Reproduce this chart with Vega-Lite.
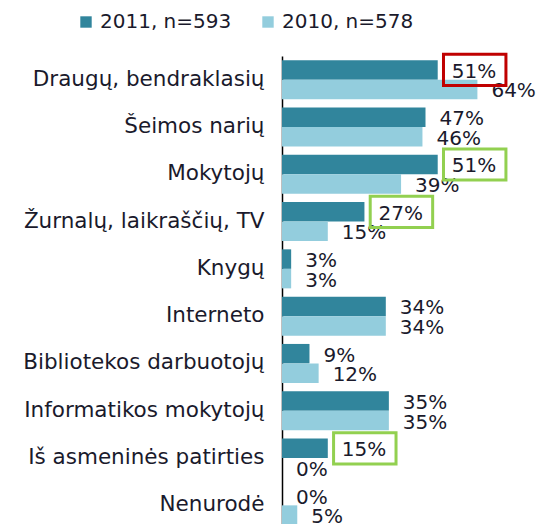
{
  "$schema": "https://vega.github.io/schema/vega-lite/v6.json",
  "autosize": {"type": "none"},
  "padding": {"left": 282, "top": 56, "right": 0, "bottom": 0},
  "width": 258,
  "height": 473,
  "background": "white",
  "config": {
    "view": {"stroke": null},
    "font": "DejaVu Sans",
    "text": {"font": "DejaVu Sans"}
  },
  "data": {
    "values": [
      {"category": "Draugų, bendraklasių", "year": "2011, n=593", "value": 51, "label": "51%", "change": "decline"},
      {"category": "Draugų, bendraklasių", "year": "2010, n=578", "value": 64, "label": "64%"},
      {"category": "Šeimos narių", "year": "2011, n=593", "value": 47, "label": "47%"},
      {"category": "Šeimos narių", "year": "2010, n=578", "value": 46, "label": "46%"},
      {"category": "Mokytojų", "year": "2011, n=593", "value": 51, "label": "51%", "change": "growth"},
      {"category": "Mokytojų", "year": "2010, n=578", "value": 39, "label": "39%"},
      {"category": "Žurnalų, laikraščių, TV", "year": "2011, n=593", "value": 27, "label": "27%", "change": "growth"},
      {"category": "Žurnalų, laikraščių, TV", "year": "2010, n=578", "value": 15, "label": "15%"},
      {"category": "Knygų", "year": "2011, n=593", "value": 3, "label": "3%"},
      {"category": "Knygų", "year": "2010, n=578", "value": 3, "label": "3%"},
      {"category": "Interneto", "year": "2011, n=593", "value": 34, "label": "34%"},
      {"category": "Interneto", "year": "2010, n=578", "value": 34, "label": "34%"},
      {"category": "Bibliotekos darbuotojų", "year": "2011, n=593", "value": 9, "label": "9%"},
      {"category": "Bibliotekos darbuotojų", "year": "2010, n=578", "value": 12, "label": "12%"},
      {"category": "Informatikos mokytojų", "year": "2011, n=593", "value": 35, "label": "35%"},
      {"category": "Informatikos mokytojų", "year": "2010, n=578", "value": 35, "label": "35%"},
      {"category": "Iš asmeninės patirties", "year": "2011, n=593", "value": 15, "label": "15%", "change": "growth"},
      {"category": "Iš asmeninės patirties", "year": "2010, n=578", "value": 0, "label": "0%"},
      {"category": "Nenurodė", "year": "2011, n=593", "value": 0, "label": "0%"},
      {"category": "Nenurodė", "year": "2010, n=578", "value": 5, "label": "5%"}
    ]
  },
  "encoding": {
    "y": {
      "field": "category",
      "type": "nominal",
      "sort": ["Draugų, bendraklasių", "Šeimos narių", "Mokytojų", "Žurnalų, laikraščių, TV", "Knygų", "Interneto", "Bibliotekos darbuotojų", "Informatikos mokytojų", "Iš asmeninės patirties", "Nenurodė"],
      "scale": {"paddingInner": 0.175, "paddingOuter": 0.0875},
      "axis": {
        "title": null,
        "ticks": false,
        "domain": true,
        "domainColor": "#000000",
        "domainWidth": 1.5,
        "labelFontSize": 21.5,
        "labelFont": "DejaVu Sans",
        "labelColor": "#1a1a2c",
        "labelPadding": 18,
        "labelLimit": 300,
        "grid": false
      }
    },
    "yOffset": {
      "field": "year",
      "type": "nominal",
      "sort": ["2011, n=593", "2010, n=578"],
      "scale": {"paddingInner": 0, "paddingOuter": 0}
    }
  },
  "layer": [
    {
      "mark": {"type": "bar"},
      "encoding": {
        "x": {"field": "value", "type": "quantitative", "scale": {"domain": [0, 84.5], "nice": false}, "axis": null},
        "color": {
          "field": "year",
          "type": "nominal",
          "sort": ["2011, n=593", "2010, n=578"],
          "scale": {"domain": ["2011, n=593", "2010, n=578"], "range": ["#31859c", "#93cddd"]},
          "legend": {
            "title": null,
            "orient": "none",
            "direction": "horizontal",
            "legendX": -206,
            "legendY": -44,
            "symbolType": "square",
            "symbolSize": 130,
            "symbolStrokeWidth": 0,
            "labelFontSize": 20,
            "labelFont": "DejaVu Sans",
            "labelColor": "#1a1a2c",
            "columnPadding": 26,
            "labelOffset": 4
          }
        }
      }
    },
    {
      "mark": {"type": "text", "align": "left", "baseline": "middle", "dx": 14, "dy": 2, "fontSize": 20, "color": "#1a1a2c"},
      "encoding": {
        "x": {"field": "value", "type": "quantitative"},
        "text": {"field": "label"}
      }
    },
    {
      "transform": [{"filter": "isValid(datum.change)"}],
      "mark": {
        "type": "point",
        "shape": "M-1,-0.5H1V0.5H-1Z",
        "size": 3900,
        "filled": false,
        "strokeWidth": 3,
        "xOffset": 37,
        "opacity": 1
      },
      "encoding": {
        "x": {"field": "value", "type": "quantitative"},
        "stroke": {
          "field": "change",
          "type": "nominal",
          "scale": {"domain": ["decline", "growth"], "range": ["#c00000", "#92d050"]},
          "legend": null
        }
      }
    }
  ]
}
